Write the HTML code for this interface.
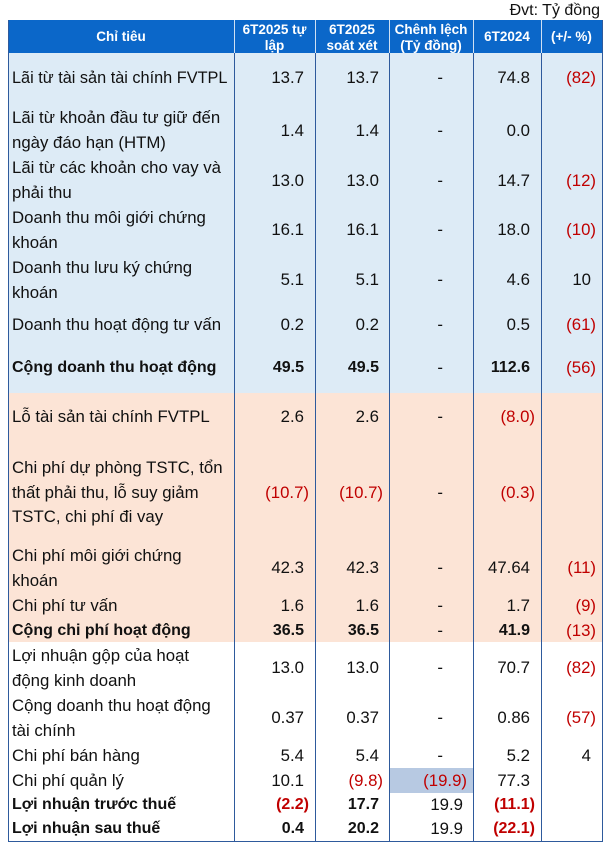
<!DOCTYPE html>
<html>
<head>
<meta charset="utf-8">
<style>
*{margin:0;padding:0;box-sizing:border-box;}
html,body{width:609px;height:843px;background:#fff;overflow:hidden;}
body{position:relative;font-family:"Liberation Sans","DejaVu Sans",sans-serif;color:#111;}
.bg{position:absolute;}
.v{position:absolute;width:1px;background:#2e5a9c;}
.hv{position:absolute;width:1px;background:#cfe0f3;top:20px;height:33px;}
.t{position:absolute;white-space:nowrap;font-size:16.8px;line-height:20px;height:20px;}
.l{position:absolute;left:12px;white-space:nowrap;font-size:16.8px;line-height:24.6px;}
.b{font-weight:bold;font-size:16px;}
.r{color:#c00000;}
.h{position:absolute;color:#fff;font-weight:bold;font-size:13.5px;line-height:16px;text-align:center;white-space:nowrap;}
</style>
</head>
<body>
<div class="t" style="right:9px;top:1px;font-size:16px;">Đvt: Tỷ đồng</div>

<!-- backgrounds -->
<div class="bg" style="left:8px;top:20px;width:594px;height:33px;background:#0b67c9;"></div>
<div class="bg" style="left:8px;top:53px;width:594px;height:340px;background:#ddebf6;"></div>
<div class="bg" style="left:8px;top:393px;width:594px;height:249px;background:#fce4d6;"></div>
<div class="bg" style="left:389px;top:768px;width:84px;height:25px;background:#b7c9e2;"></div>

<!-- header separators -->
<div class="hv" style="left:234px;"></div>
<div class="hv" style="left:315px;"></div>
<div class="hv" style="left:389px;"></div>
<div class="hv" style="left:473px;"></div>
<div class="hv" style="left:541px;"></div>

<!-- body lines -->
<div class="v" style="left:8px;top:20px;height:822px;"></div>
<div class="v" style="left:602px;top:20px;height:822px;"></div>
<div class="v" style="left:234px;top:53px;height:789px;"></div>
<div class="v" style="left:315px;top:53px;height:789px;"></div>
<div class="v" style="left:389px;top:53px;height:789px;"></div>
<div class="v" style="left:473px;top:53px;height:789px;"></div>
<div class="v" style="left:541px;top:53px;height:789px;"></div>
<div class="bg" style="left:8px;top:841px;width:595px;height:1px;background:#2e5a9c;"></div>

<!-- header text -->
<div class="h" style="left:8px;width:226px;top:29px;">Chỉ tiêu</div>
<div class="h" style="left:234px;width:81px;top:22px;">6T2025 tự<br>lập</div>
<div class="h" style="left:315px;width:74px;top:22px;">6T2025<br>soát xét</div>
<div class="h" style="left:389px;width:84px;top:22px;">Chênh lệch<br>(Tỷ đồng)</div>
<div class="h" style="left:473px;width:68px;top:29px;">6T2024</div>
<div class="h" style="left:541px;width:61px;top:29px;">(+/- %)</div>

<!-- labels -->
<div class="l" style="top:66px;font-size:16.3px;">Lãi từ tài sản tài chính FVTPL</div>
<div class="l" style="top:106px;">Lãi từ khoản đầu tư giữ đến<br>ngày đáo hạn (HTM)</div>
<div class="l" style="top:156px;">Lãi từ các khoản cho vay và<br>phải thu</div>
<div class="l" style="top:206px;">Doanh thu môi giới chứng<br>khoán</div>
<div class="l" style="top:256px;">Doanh thu lưu ký chứng<br>khoán</div>
<div class="l" style="top:313px;">Doanh thu hoạt động tư vấn</div>
<div class="l b" style="top:356px;">Cộng doanh thu hoạt động</div>
<div class="l" style="top:405px;">Lỗ tài sản tài chính FVTPL</div>
<div class="l" style="top:456px;">Chi phí dự phòng TSTC, tổn<br>thất phải thu, lỗ suy giảm<br>TSTC, chi phí đi vay</div>
<div class="l" style="top:544px;">Chi phí môi giới chứng<br>khoán</div>
<div class="l" style="top:594px;">Chi phí tư vấn</div>
<div class="l b" style="top:619px;">Cộng chi phí hoạt động</div>
<div class="l" style="top:644px;">Lợi nhuận gộp của hoạt<br>động kinh doanh</div>
<div class="l" style="top:694px;">Cộng doanh thu hoạt động<br>tài chính</div>
<div class="l" style="top:744px;">Chi phí bán hàng</div>
<div class="l" style="top:769px;">Chi phí quản lý</div>
<div class="l b" style="top:793px;">Lợi nhuận trước thuế</div>
<div class="l b" style="top:817px;">Lợi nhuận sau thuế</div>

<!-- row 1 y78 -->
<div class="t" style="top:68px;right:305px;">13.7</div>
<div class="t" style="top:68px;right:230px;">13.7</div>
<div class="t" style="top:68px;right:166px;">-</div>
<div class="t" style="top:68px;right:79px;">74.8</div>
<div class="t r" style="top:68px;right:13px;">(82)</div>
<!-- row 2 y131 -->
<div class="t" style="top:121px;right:305px;">1.4</div>
<div class="t" style="top:121px;right:230px;">1.4</div>
<div class="t" style="top:121px;right:166px;">-</div>
<div class="t" style="top:121px;right:79px;">0.0</div>
<!-- row 3 y181 -->
<div class="t" style="top:171px;right:305px;">13.0</div>
<div class="t" style="top:171px;right:230px;">13.0</div>
<div class="t" style="top:171px;right:166px;">-</div>
<div class="t" style="top:171px;right:79px;">14.7</div>
<div class="t r" style="top:171px;right:13px;">(12)</div>
<!-- row 4 y230 -->
<div class="t" style="top:220px;right:305px;">16.1</div>
<div class="t" style="top:220px;right:230px;">16.1</div>
<div class="t" style="top:220px;right:166px;">-</div>
<div class="t" style="top:220px;right:79px;">18.0</div>
<div class="t r" style="top:220px;right:13px;">(10)</div>
<!-- row 5 y280 -->
<div class="t" style="top:270px;right:305px;">5.1</div>
<div class="t" style="top:270px;right:230px;">5.1</div>
<div class="t" style="top:270px;right:166px;">-</div>
<div class="t" style="top:270px;right:79px;">4.6</div>
<div class="t" style="top:270px;right:18px;">10</div>
<!-- row 6 y325 -->
<div class="t" style="top:315px;right:305px;">0.2</div>
<div class="t" style="top:315px;right:230px;">0.2</div>
<div class="t" style="top:315px;right:166px;">-</div>
<div class="t" style="top:315px;right:79px;">0.5</div>
<div class="t r" style="top:315px;right:13px;">(61)</div>
<!-- row 7 y368 bold -->
<div class="t b" style="top:358px;right:305px;">49.5</div>
<div class="t b" style="top:358px;right:230px;">49.5</div>
<div class="t" style="top:358px;right:166px;">-</div>
<div class="t b" style="top:358px;right:79px;">112.6</div>
<div class="t r" style="top:358px;right:13px;">(56)</div>
<!-- row 8 y417 -->
<div class="t" style="top:407px;right:305px;">2.6</div>
<div class="t" style="top:407px;right:230px;">2.6</div>
<div class="t" style="top:407px;right:166px;">-</div>
<div class="t r" style="top:407px;right:74px;">(8.0)</div>
<!-- row 9 y493 -->
<div class="t r" style="top:483px;right:300px;">(10.7)</div>
<div class="t r" style="top:483px;right:226px;">(10.7)</div>
<div class="t" style="top:483px;right:166px;">-</div>
<div class="t r" style="top:483px;right:74px;">(0.3)</div>
<!-- row 10 y568 -->
<div class="t" style="top:558px;right:305px;">42.3</div>
<div class="t" style="top:558px;right:230px;">42.3</div>
<div class="t" style="top:558px;right:166px;">-</div>
<div class="t" style="top:558px;right:79px;">47.64</div>
<div class="t r" style="top:558px;right:13px;">(11)</div>
<!-- row 11 y606 -->
<div class="t" style="top:596px;right:305px;">1.6</div>
<div class="t" style="top:596px;right:230px;">1.6</div>
<div class="t" style="top:596px;right:166px;">-</div>
<div class="t" style="top:596px;right:79px;">1.7</div>
<div class="t r" style="top:596px;right:13px;">(9)</div>
<!-- row 12 y631 bold -->
<div class="t b" style="top:621px;right:305px;">36.5</div>
<div class="t b" style="top:621px;right:230px;">36.5</div>
<div class="t" style="top:621px;right:166px;">-</div>
<div class="t b" style="top:621px;right:79px;">41.9</div>
<div class="t r" style="top:621px;right:13px;">(13)</div>
<!-- row 13 y668 -->
<div class="t" style="top:658px;right:305px;">13.0</div>
<div class="t" style="top:658px;right:230px;">13.0</div>
<div class="t" style="top:658px;right:166px;">-</div>
<div class="t" style="top:658px;right:79px;">70.7</div>
<div class="t r" style="top:658px;right:13px;">(82)</div>
<!-- row 14 y718 -->
<div class="t" style="top:708px;right:305px;">0.37</div>
<div class="t" style="top:708px;right:230px;">0.37</div>
<div class="t" style="top:708px;right:166px;">-</div>
<div class="t" style="top:708px;right:79px;">0.86</div>
<div class="t r" style="top:708px;right:13px;">(57)</div>
<!-- row 15 y756 -->
<div class="t" style="top:746px;right:305px;">5.4</div>
<div class="t" style="top:746px;right:230px;">5.4</div>
<div class="t" style="top:746px;right:166px;">-</div>
<div class="t" style="top:746px;right:79px;">5.2</div>
<div class="t" style="top:746px;right:18px;">4</div>
<!-- row 16 y781 -->
<div class="t" style="top:771px;right:305px;">10.1</div>
<div class="t r" style="top:771px;right:226px;">(9.8)</div>
<div class="t r" style="top:771px;right:142px;">(19.9)</div>
<div class="t" style="top:771px;right:79px;">77.3</div>
<!-- row 17 y805 bold -->
<div class="t b r" style="top:795px;right:300px;">(2.2)</div>
<div class="t b" style="top:795px;right:230px;">17.7</div>
<div class="t" style="top:795px;right:146px;">19.9</div>
<div class="t b r" style="top:795px;right:74px;">(11.1)</div>
<!-- row 18 y829 bold -->
<div class="t b" style="top:819px;right:305px;">0.4</div>
<div class="t b" style="top:819px;right:230px;">20.2</div>
<div class="t" style="top:819px;right:146px;">19.9</div>
<div class="t b r" style="top:819px;right:74px;">(22.1)</div>
</body>
</html>
